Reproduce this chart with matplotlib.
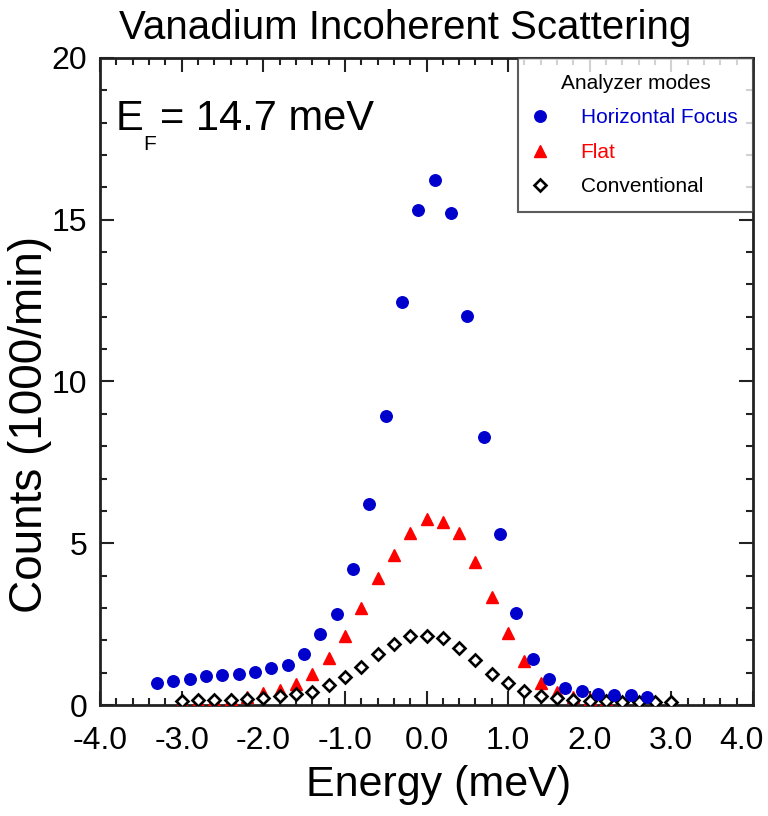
import numpy as np
import matplotlib
matplotlib.use('Agg')
import matplotlib.pyplot as plt
from matplotlib.ticker import MultipleLocator, FormatStrFormatter
from matplotlib.transforms import ScaledTranslation

plt.rcParams['font.family'] = ['Liberation Sans', 'DejaVu Sans']
plt.rcParams['axes.unicode_minus'] = False

# Horizontal Focus (blue circles)
hf_e = [-3.3, -3.1, -2.9, -2.7, -2.5, -2.3, -2.1, -1.9, -1.7, -1.5, -1.3, -1.1,
        -0.9, -0.7, -0.5, -0.3, -0.1, 0.1, 0.3, 0.5, 0.7, 0.9, 1.1, 1.3, 1.5,
        1.7, 1.9, 2.1, 2.3, 2.5, 2.7]
hf_c = [0.67, 0.75, 0.80, 0.90, 0.94, 0.97, 1.01, 1.13, 1.24, 1.58, 2.20, 2.80,
        4.20, 6.20, 8.93, 12.46, 15.30, 16.23, 15.21, 12.02, 8.27, 5.28, 2.84,
        1.43, 0.79, 0.54, 0.42, 0.34, 0.30, 0.30, 0.26]

# Flat (red triangles)
flat_e = [-3.0, -2.8, -2.6, -2.4, -2.2, -2.0, -1.8, -1.6, -1.4, -1.2, -1.0, -0.8,
          -0.6, -0.4, -0.2, 0.0, 0.2, 0.4, 0.6, 0.8, 1.0, 1.2, 1.4, 1.6, 1.8,
          2.0, 2.2, 2.4, 2.6, 2.8, 3.0]
flat_c = [0.10, 0.12, 0.15, 0.18, 0.25, 0.36, 0.45, 0.65, 0.95, 1.45, 2.12, 3.00,
          3.92, 4.63, 5.31, 5.74, 5.67, 5.31, 4.43, 3.33, 2.22, 1.36, 0.69, 0.39,
          0.25, 0.18, 0.14, 0.10, 0.08, 0.06, 0.05]

# Conventional (open diamonds)
conv_e = flat_e
conv_c = [0.12, 0.15, 0.15, 0.17, 0.19, 0.21, 0.27, 0.34, 0.41, 0.62, 0.88, 1.19,
          1.57, 1.89, 2.13, 2.14, 2.06, 1.75, 1.39, 0.96, 0.67, 0.43, 0.28, 0.21,
          0.15, 0.13, 0.11, 0.09, 0.09, 0.09, 0.08]

fig = plt.figure(figsize=(7.68, 8.16), dpi=100)
ax = fig.add_axes([0.1302, 0.136, 0.8503, 0.793])

ax.plot(flat_e, flat_c, '^', color='red', ms=8.5, label='Flat', zorder=3)
ax.plot(conv_e, conv_c, 'D', mfc='white', mec='black', ms=6.3, mew=1.9,
        label='Conventional', zorder=4)
ax.plot(hf_e, hf_c, 'o', color='#0000cc', ms=8.3, label='Horizontal Focus', zorder=5)

ax.set_xlim(-4, 4)
ax.set_ylim(0, 20)
ax.xaxis.set_major_locator(MultipleLocator(1))
ax.xaxis.set_minor_locator(MultipleLocator(0.2))
ax.xaxis.set_major_formatter(FormatStrFormatter('%.1f'))
ax.yaxis.set_major_locator(MultipleLocator(5))
ax.yaxis.set_minor_locator(MultipleLocator(1))
ax.tick_params(which='both', direction='in', top=True, right=True, width=1.5,
               color='#222222')
ax.tick_params(which='major', length=10, labelsize=23)
ax.tick_params(axis='x', which='major', pad=15)
ax.tick_params(axis='y', which='major', pad=9)
ax.tick_params(which='minor', length=5)
for s in ax.spines.values():
    s.set_linewidth(2)
    s.set_color('#222222')

ax.set_xlabel('Energy (meV)', fontsize=31)
ax.xaxis.set_label_coords(0.519, -0.093)
ax.set_ylabel('Counts (1000/min)', fontsize=33)
ax.yaxis.set_label_coords(-0.0735, 0.433)
fig.text(0.527, 0.989, 'Vanadium Incoherent Scattering', fontsize=29,
         ha='center', va='top')

# E_F label, subscript drawn as its own text
ax.text(0.0245, 0.889, 'E', transform=ax.transAxes, fontsize=30, va='baseline')
ax.text(0.066, 0.858, 'F', transform=ax.transAxes, fontsize=15, va='baseline')
ax.text(0.092, 0.889, '= 14.7 meV', transform=ax.transAxes, fontsize=30,
        va='baseline')

h, l = ax.get_legend_handles_labels()
order = [2, 0, 1]
leg = ax.legend([h[i] for i in order], [l[i] for i in order], title='Analyzer modes',
                loc='upper right', bbox_to_anchor=(1.0, 1.0), fontsize=15,
                title_fontsize=15, frameon=True, fancybox=False, borderaxespad=0,
                labelspacing=0.75, handlelength=0.55, handletextpad=1.7,
                borderpad=0.75, labelcolor=['#0000cc', 'red', 'black'])
leg.get_frame().set_edgecolor('#333333')
leg.get_frame().set_linewidth(1.5)

# the 4.0 tick label sits a little left so it stays inside the figure
fig.canvas.draw()
for t in ax.xaxis.get_major_ticks():
    if abs(t.get_loc() - 4.0) < 1e-6:
        lab = t.label1
        lab.set_transform(lab.get_transform() +
                          ScaledTranslation(-0.12, 0, fig.dpi_scale_trans))

fig.savefig('out.png', dpi=100)
